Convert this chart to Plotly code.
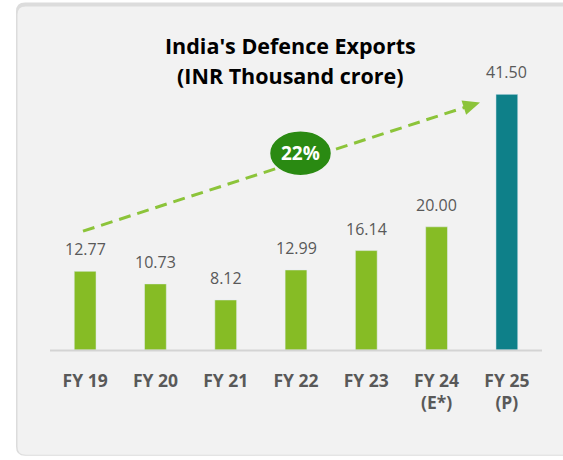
import plotly.graph_objects as go

categories = ["FY 19", "FY 20", "FY 21", "FY 22", "FY 23", "FY 24<br>(E*)", "FY 25<br>(P)"]
values = [12.77, 10.73, 8.12, 12.99, 16.14, 20.00, 41.50]
value_labels = ["12.77", "10.73", "8.12", "12.99", "16.14", "20.00", "41.50"]
bar_colors = ["#86bc25"] * 6 + ["#0e8089"]
growth_label = "22%"

W, H = 563, 460
L, R, T, B = 50, 21, 41.5, 110
PW, PH = W - L - R, H - T - B


def px(x):
    return (x - L) / PW


def py(y):
    return (H - B - y) / PH


def rounded_rect(x0, y0, x1, y1, r):
    pts = [
        f"M {px(x0 + r)} {py(y0)}",
        f"L {px(x1 - r)} {py(y0)}",
        f"Q {px(x1)} {py(y0)} {px(x1)} {py(y0 + r)}",
        f"L {px(x1)} {py(y1 - r)}",
        f"Q {px(x1)} {py(y1)} {px(x1 - r)} {py(y1)}",
        f"L {px(x0 + r)} {py(y1)}",
        f"Q {px(x0)} {py(y1)} {px(x0)} {py(y1 - r)}",
        f"L {px(x0)} {py(y0 + r)}",
        f"Q {px(x0)} {py(y0)} {px(x0 + r)} {py(y0)}",
        "Z",
    ]
    return " ".join(pts)


fig = go.Figure()
fig.add_trace(go.Bar(
    x=categories, y=values, marker_color=bar_colors, width=0.31,
    hoverinfo="x+y", showlegend=False,
))

shapes = [
    dict(type="path", xref="paper", yref="paper", layer="below",
         path=rounded_rect(16, 2, 800, 456, 9), fillcolor="#dcdcdc", line_width=0),
    dict(type="path", xref="paper", yref="paper", layer="below",
         path=rounded_rect(17.5, 6, 800, 455, 8), fillcolor="#f2f2f2", line_width=0),
    dict(type="line", xref="paper", yref="paper", x0=0, x1=1, y0=py(350.5), y1=py(350.5),
         line=dict(color="#d4d4d4", width=2)),
]

# growth arrow (decoration)
x_start, y_start = 83, 231
x_tip, y_tip = 480, 102
dx, dy = x_tip - x_start, y_tip - y_start
ln = (dx ** 2 + dy ** 2) ** 0.5
ux, uy = dx / ln, dy / ln
hl, hw = 17, 7.5
bx, by = x_tip - hl * ux, y_tip - hl * uy
shapes.append(dict(type="line", xref="paper", yref="paper",
                   x0=px(x_start), y0=py(y_start), x1=px(bx + 2 * ux), y1=py(by + 2 * uy),
                   line=dict(color="#8cc43a", width=3, dash="12px,7px")))
shapes.append(dict(type="path", xref="paper", yref="paper",
                   path=f"M {px(x_tip)} {py(y_tip)} L {px(bx - hw * uy)} {py(by + hw * ux)} "
                        f"L {px(bx + hw * uy)} {py(by - hw * ux)} Z",
                   fillcolor="#8cc43a", line_width=0))
shapes.append(dict(type="circle", xref="paper", yref="paper",
                   x0=px(269.5), x1=px(331.5), y0=py(130.5), y1=py(175.5),
                   fillcolor="#2a8a12", line=dict(color="#f2f2f2", width=1.5)))

annotations = []
for c, v, t in zip(categories, values, value_labels):
    annotations.append(dict(x=c, y=v, text=t, showarrow=False, yanchor="middle", yshift=22,
                            font=dict(family="Open Sans", size=16, color="#595959")))
annotations.append(dict(xref="paper", yref="paper", x=px(300.5), y=py(153), text=f"<b>{growth_label}</b>",
                        showarrow=False, font=dict(family="Open Sans", size=19, color="#ffffff")))
annotations.append(dict(xref="paper", yref="paper", x=px(290), y=py(45),
                        text="<b>India's Defence Exports</b>", showarrow=False, yanchor="middle",
                        font=dict(family="Open Sans", size=21.5, color="#000000")))
annotations.append(dict(xref="paper", yref="paper", x=px(290), y=py(75),
                        text="<b>(INR Thousand crore)</b>", showarrow=False, yanchor="middle",
                        font=dict(family="Open Sans", size=21.5, color="#000000")))

fig.update_layout(
    width=W, height=H,
    margin=dict(l=L, r=R, t=T, b=B, pad=0),
    paper_bgcolor="#ffffff", plot_bgcolor="rgba(0,0,0,0)",
    shapes=shapes, annotations=annotations,
    xaxis=dict(showgrid=False, showline=False, zeroline=False, ticks="",
               tickfont=dict(family="Open Sans", size=17.5, color="#595959", weight="bold"),
               ticklabelstandoff=18, fixedrange=True),
    yaxis=dict(range=[0, PH / 6.17], visible=False, showgrid=False, zeroline=False, fixedrange=True),
)
fig.write_html("out.html", config={"displayModeBar": False},
               post_script="document.body.style.margin='0';document.body.style.overflow='hidden';")
